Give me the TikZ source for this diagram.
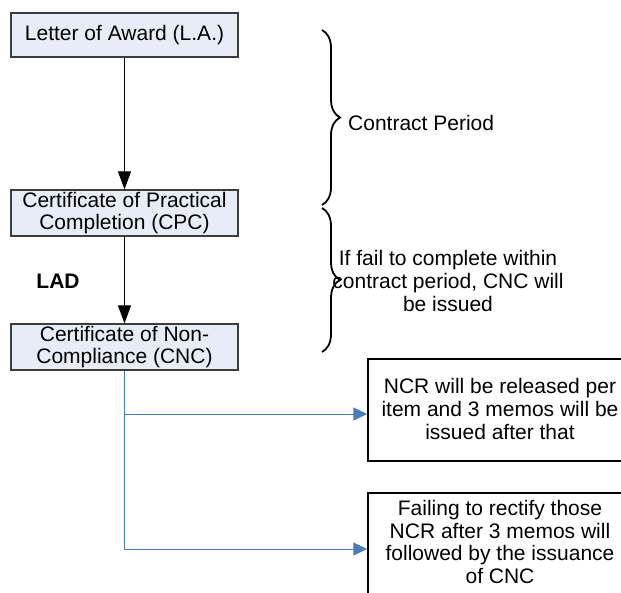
\documentclass[tikz,border=0pt]{standalone}
\usepackage{fontspec}
\setmainfont{Liberation Sans}
\usetikzlibrary{arrows.meta,decorations.pathreplacing}

\definecolor{boxfill}{RGB}{231,237,247}
\definecolor{boxedge}{RGB}{60,60,60}
\definecolor{flowblue}{RGB}{74,126,187}

\tikzset{
  x=1pt, y=1pt,
  txt/.style={font=\fontsize{21}{22.6}\selectfont, align=center, inner sep=0pt},
  stagebox/.style={draw=boxedge, line width=1.3pt, fill=boxfill,
    minimum width=227pt, inner sep=0pt, txt},
  notebox/.style={draw=black, line width=1.5pt, fill=white,
    minimum width=264pt, inner sep=0pt},
  mainarrow/.style={draw=black, line width=0.9pt, -{Triangle[length=18pt,width=13pt]}},
  bluearrow/.style={draw=flowblue, line width=1pt, -{Triangle[length=14pt,width=13pt]}},
  period/.style={draw=black, line width=1.8pt,
    decorate, decoration={brace, amplitude=18pt}},
}

\begin{document}
\begin{tikzpicture}
\useasboundingbox (0,0) rectangle (621,-592);
\clip (0,0) rectangle (621,-592);

% contract stages
\node[stagebox, minimum height=44pt] (la)  at (124.5,-35)  {Letter of Award (L.A.)};
\node[stagebox, minimum height=46pt] (cpc) at (124.5,-213) {Certificate of Practical\\Completion (CPC)};
\node[stagebox, minimum height=46pt] (cnc) at (124.5,-347) {Certificate of Non-\\Compliance (CNC)};

\draw[mainarrow] (la.south) -- (cpc.north);
\draw[mainarrow] (cpc.south) -- (cnc.north);
\node[txt, font=\fontsize{21}{22.6}\selectfont\bfseries] (lad) at (58,-281) {LAD};

% periods marked with braces
\coordinate (b1top) at (322,-30);
\coordinate (b1bot) at (322,-205);
\coordinate (b2top) at (322,-208);
\coordinate (b2bot) at (322,-352);
\draw[period] (b1top) -- (b1bot);
\draw[period] (b2top) -- (b2bot);
\node[txt, anchor=west] (cp) at (348,-123) {Contract Period};
\node[txt] (fail) at (448,-281) {If fail to complete within\\contract period, CNC will\\be issued};

% follow-up actions after CNC
\node[notebox, minimum height=102pt] (ncr1) at (500,-410) {};
\node[txt] (ncr1txt) at (500,-409) {NCR will be released per\\item and 3 memos will be\\issued after that};
\node[notebox, minimum height=112pt] (ncr2) at (500,-549) {};
\node[txt] (ncr2txt) at (500,-542) {Failing to rectify those\\NCR after 3 memos will\\followed by the issuance\\of CNC};

\draw[bluearrow] (cnc.south) |- ([yshift=-4pt]ncr1.west);
\draw[bluearrow] (cnc.south) |- (ncr2.west);
\end{tikzpicture}
\end{document}
